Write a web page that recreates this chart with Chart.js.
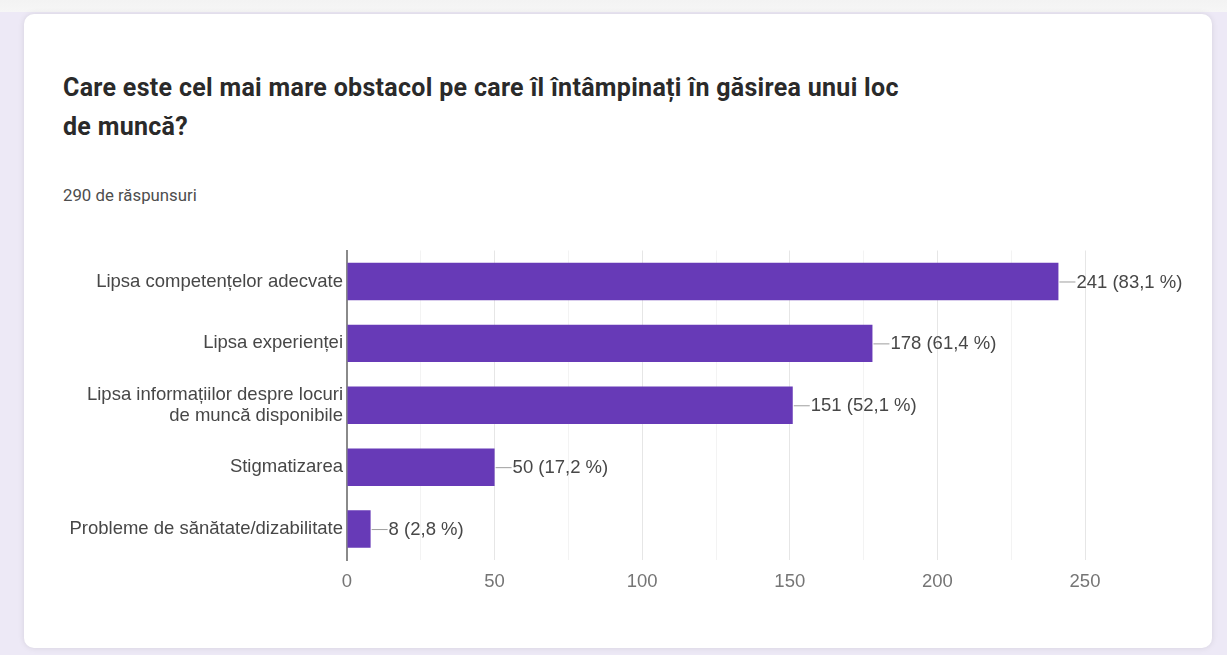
<!DOCTYPE html>
<html>
<head>
<meta charset="utf-8">
<script src="https://cdn.jsdelivr.net/npm/chart.js@4"></script>
<style>
  html, body { margin:0; padding:0; }
  body { width:1227px; height:655px; background:#ede9f6; position:relative; overflow:hidden; font-family:Roboto, Arial, sans-serif; }
  .topband { position:absolute; left:0; top:0; width:1227px; height:12px; background:linear-gradient(#f3f3f3,#f6f6f6); }
  .card { position:absolute; left:24px; top:14px; width:1188px; height:634px; background:#fff; border-radius:10px; box-shadow:0 0 6px rgba(0,0,0,0.10); }
  .title { position:absolute; left:63px; top:68px; width:1000px; font-family:Roboto, sans-serif; font-weight:700; font-size:25px; letter-spacing:0.3px; line-height:39px; color:#2a2a2a; }
  .sub { position:absolute; left:63px; top:185px; font-family:Roboto, sans-serif; font-size:16.8px; color:#4d4d4d; }
  .wrap { position:absolute; left:40px; top:236px; width:1160px; height:370px; }
</style>
</head>
<body>
<div class="topband"></div>
<div class="card"></div>
<div class="title">Care este cel mai mare obstacol pe care îl întâmpinați în găsirea unui loc<br>de muncă?</div>
<div class="sub">290 de răspunsuri</div>
<div class="wrap"><canvas id="c" width="1160" height="370"></canvas></div>
<script>
const categories = [
  "Lipsa competențelor adecvate",
  "Lipsa experienței",
  ["Lipsa informațiilor despre locuri", "de muncă disponibile"],
  "Stigmatizarea",
  "Probleme de sănătate/dizabilitate"
];
const counts = [241, 178, 151, 50, 8];
const percents = ["83,1", "61,4", "52,1", "17,2", "2,8"];
const xTicks = [0, 50, 100, 150, 200, 250];

const labelFont = '"Liberation Sans", Arial, sans-serif';

const valueLabels = {
  id: 'valueLabels',
  afterDatasetsDraw(chart) {
    const ctx = chart.ctx;
    const meta = chart.getDatasetMeta(0);
    ctx.save();
    ctx.font = '18.5px ' + labelFont;
    ctx.textBaseline = 'middle';
    ctx.textAlign = 'left';
    meta.data.forEach((bar, i) => {
      const x = bar.x, y = bar.y;
      ctx.strokeStyle = '#9e9e9e';
      ctx.lineWidth = 1;
      ctx.beginPath();
      ctx.moveTo(x + 1, y + 0.5);
      ctx.lineTo(x + 17, y + 0.5);
      ctx.stroke();
      ctx.fillStyle = '#474747';
      ctx.fillText(counts[i] + ' (' + percents[i] + ' %)', x + 18, y + 1);
    });
    ctx.restore();
  }
};

new Chart(document.getElementById('c'), {
  type: 'bar',
  data: {
    labels: categories,
    datasets: [{
      data: counts,
      backgroundColor: '#673ab7',
      borderWidth: 0,
      barPercentage: 0.605,
      categoryPercentage: 1
    }]
  },
  options: {
    indexAxis: 'y',
    responsive: false,
    animation: false,
    events: [],
    layout: { padding: { left: 0, right: 115, top: 10, bottom: 0 } },
    plugins: { legend: { display: false }, tooltip: { enabled: false } },
    scales: {
      x: {
        min: 0, max: 250,
        afterFit(s) { s.height = 46; },
        afterBuildTicks(s) { s.ticks = [0,25,50,75,100,125,150,175,200,225,250].map(v => ({ value: v })); },
        ticks: {
          padding: 11,
          color: '#757575',
          font: { family: labelFont, size: 18.5 },
          callback: v => xTicks.includes(v) ? String(v) : ''
        },
        grid: {
          drawTicks: false,
          color: ctx => (ctx.tick && ctx.tick.value % 50 === 0) ? '#e6e6e6' : '#f3f3f3'
        },
        border: { display: false }
      },
      y: {
        afterFit(s) { s.width = 307; },
        ticks: {
          padding: 4,
          color: '#474747',
          font: { family: labelFont, size: 18.5, lineHeight: 1.14 }
        },
        grid: { display: false, drawTicks: false },
        border: { display: true, color: '#8a8a8a', width: 2 }
      }
    }
  },
  plugins: [valueLabels]
});
</script>
</body>
</html>
